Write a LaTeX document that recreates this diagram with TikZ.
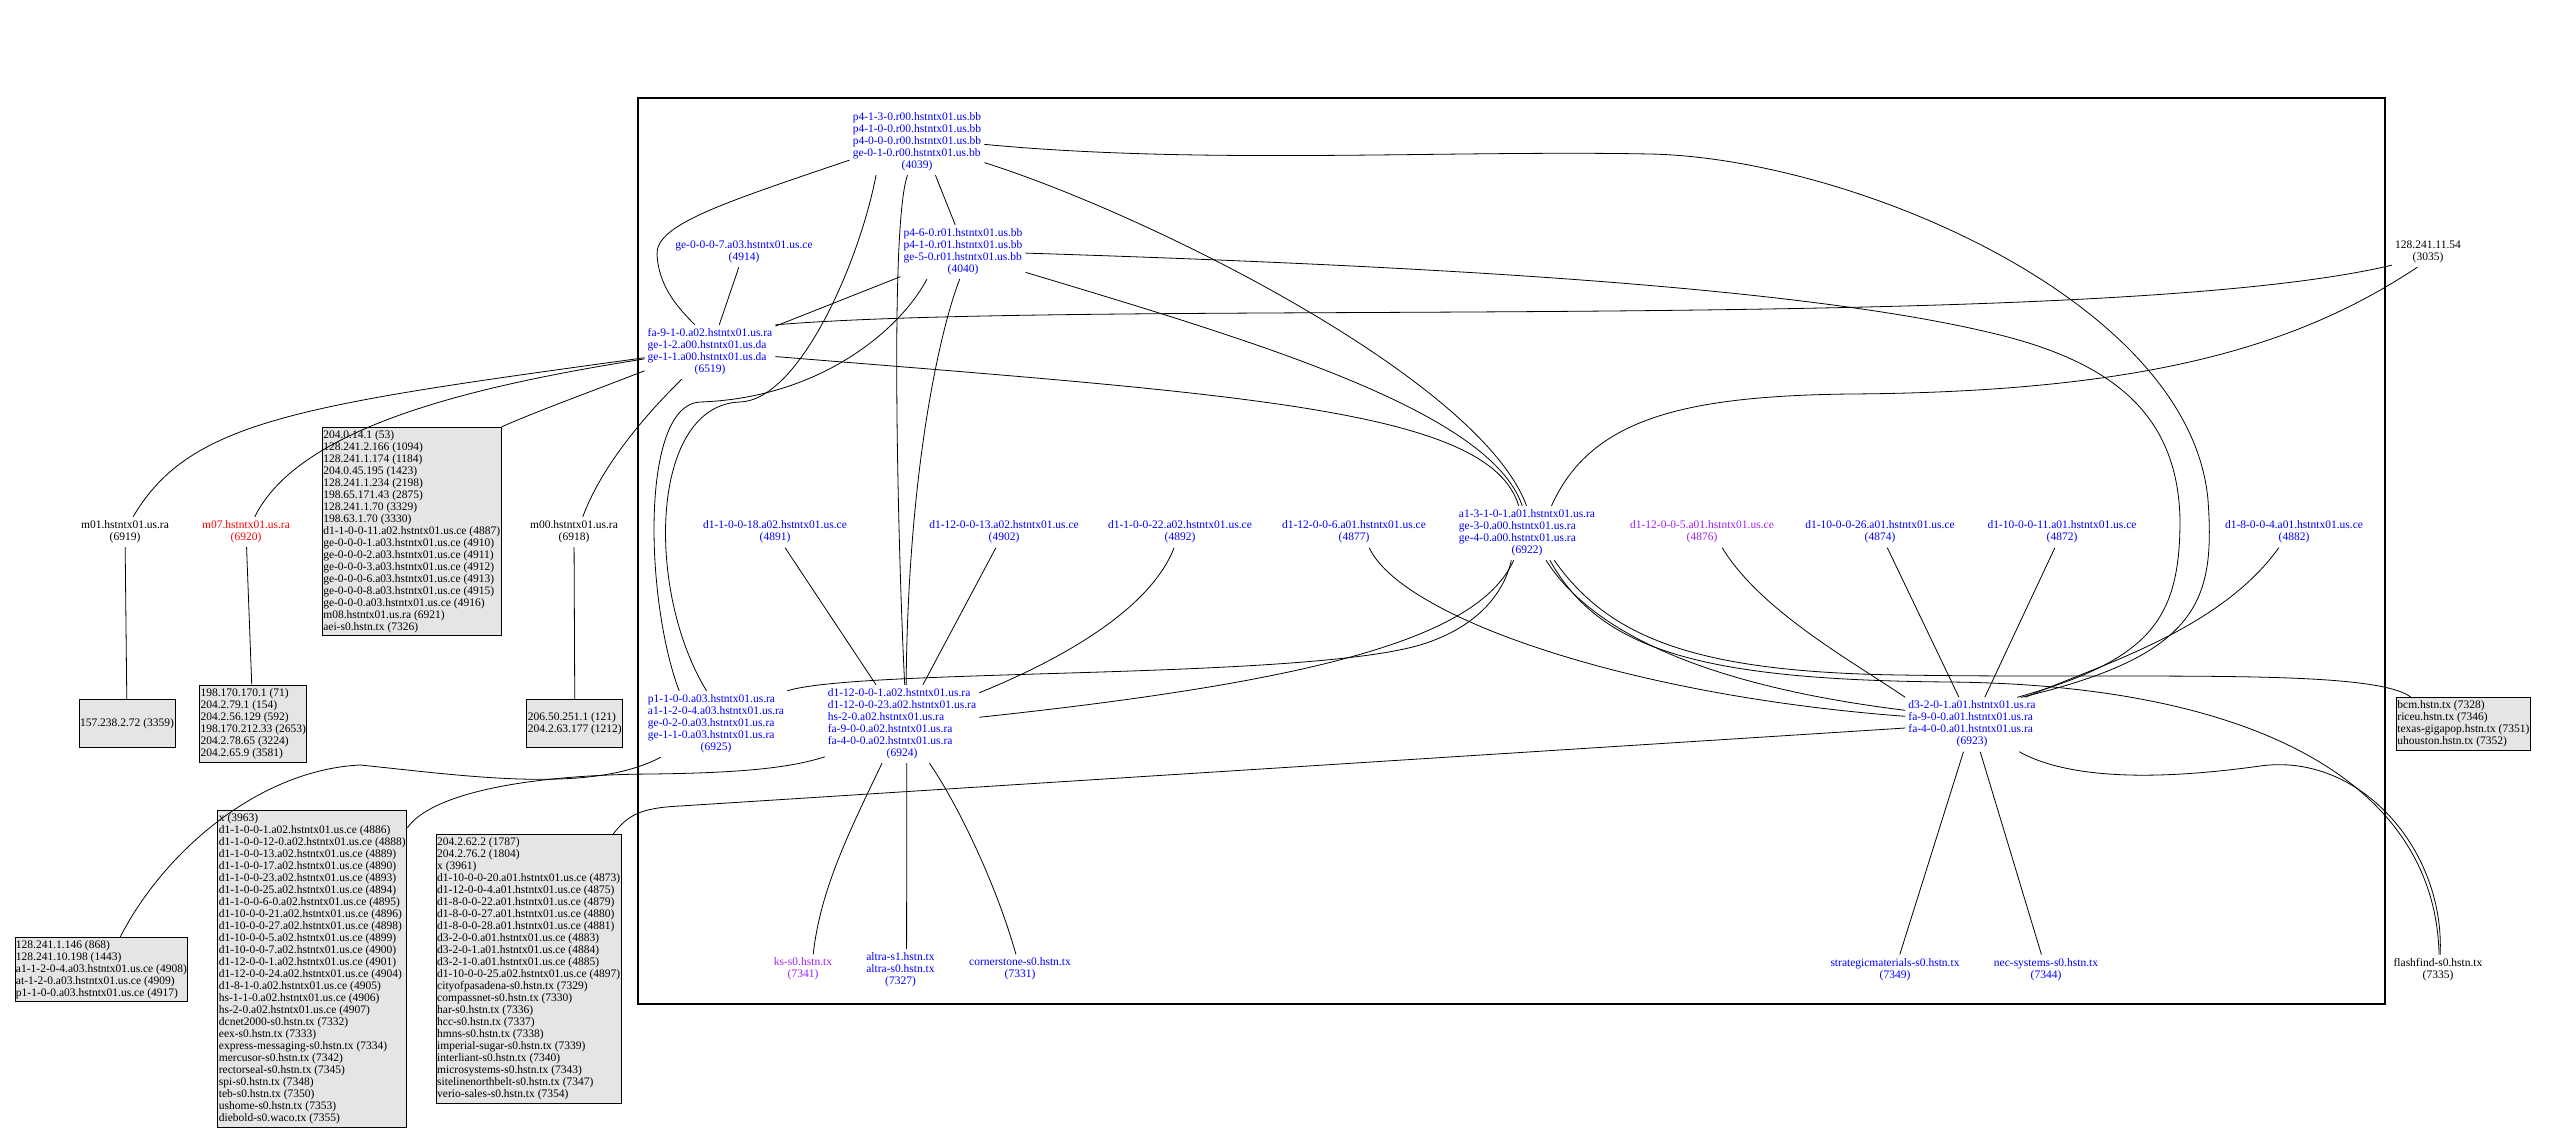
\documentclass[tikz,border=0pt]{standalone}
\usepackage{fontspec}
\setmainfont{Liberation Serif}
\usepackage{tikz}
\definecolor{blu}{RGB}{0,0,255}
\definecolor{prp}{RGB}{160,32,240}
\definecolor{boxgray}{RGB}{229,229,229}
\newcommand{\lbl}[2]{\begin{tabular}{@{}l@{}}#1\\\multicolumn{1}{@{}c@{}}{(#2)}\end{tabular}}
\tikzstyle{rtr} = [inner sep=3pt, font=\fontsize{11.5}{12}\selectfont, text=black]
\tikzstyle{rtrb} = [rtr, text=blu]
\tikzstyle{lst} = [draw, line width=1pt, fill=boxgray, inner xsep=1pt, inner ysep=0pt, align=left, anchor=west, font=\fontsize{11.5}{12}\selectfont]
\tikzstyle{lnk} = [draw, line width=0.8pt]

\begin{document}
\begin{tikzpicture}[x=1pt, y=-1pt]
\useasboundingbox (0,0) rectangle (2553,1141);

% cluster frame
\draw[line width=1.2pt] (638,98) rectangle (2385,1004);

% backbone and aggregation routers
\node[rtrb] (n4039) at (917,142) {\lbl{p4-1-3-0.r00.hstntx01.us.bb\\p4-1-0-0.r00.hstntx01.us.bb\\p4-0-0-0.r00.hstntx01.us.bb\\ge-0-1-0.r00.hstntx01.us.bb}{4039}};
\node[rtrb] (n4040) at (963,252) {\lbl{p4-6-0.r01.hstntx01.us.bb\\p4-1-0.r01.hstntx01.us.bb\\ge-5-0.r01.hstntx01.us.bb}{4040}};
\node[rtrb] (n4914) at (744,252) {\lbl{ge-0-0-0-7.a03.hstntx01.us.ce}{4914}};
\node[rtrb] (n6519) at (710,352) {\lbl{fa-9-1-0.a02.hstntx01.us.ra\\ge-1-2.a00.hstntx01.us.da\\ge-1-1.a00.hstntx01.us.da}{6519}};
\node[rtr] (n3035) at (2428,252) {\lbl{128.241.11.54}{3035}};

% m routers
\node[rtr] (n6919) at (125,532) {\lbl{m01.hstntx01.us.ra}{6919}};
\node[rtr, text=red] (n6920) at (246,532) {\lbl{m07.hstntx01.us.ra}{6920}};
\node[rtr] (n6918) at (574,532) {\lbl{m00.hstntx01.us.ra}{6918}};

% ce row
\node[rtrb] (n4891) at (775,532.5) {\lbl{d1-1-0-0-18.a02.hstntx01.us.ce}{4891}};
\node[rtrb] (n4902) at (1004,532.5) {\lbl{d1-12-0-0-13.a02.hstntx01.us.ce}{4902}};
\node[rtrb] (n4892) at (1180,532.5) {\lbl{d1-1-0-0-22.a02.hstntx01.us.ce}{4892}};
\node[rtrb] (n4877) at (1354,532.5) {\lbl{d1-12-0-0-6.a01.hstntx01.us.ce}{4877}};
\node[rtrb] (n6922) at (1527,533) {\lbl{a1-3-1-0-1.a01.hstntx01.us.ra\\ge-3-0.a00.hstntx01.us.ra\\ge-4-0.a00.hstntx01.us.ra}{6922}};
\node[rtr, text=prp] (n4876) at (1702,532.5) {\lbl{d1-12-0-0-5.a01.hstntx01.us.ce}{4876}};
\node[rtrb] (n4874) at (1880,532.5) {\lbl{d1-10-0-0-26.a01.hstntx01.us.ce}{4874}};
\node[rtrb] (n4872) at (2062,532.5) {\lbl{d1-10-0-0-11.a01.hstntx01.us.ce}{4872}};
\node[rtrb] (n4882) at (2294,532.5) {\lbl{d1-8-0-0-4.a01.hstntx01.us.ce}{4882}};

% ra row
\node[rtrb] (n6925) at (716,724) {\lbl{p1-1-0-0.a03.hstntx01.us.ra\\a1-1-2-0-4.a03.hstntx01.us.ra\\ge-0-2-0.a03.hstntx01.us.ra\\ge-1-1-0.a03.hstntx01.us.ra}{6925}};
\node[rtrb] (n6924) at (902,724) {\lbl{d1-12-0-0-1.a02.hstntx01.us.ra\\d1-12-0-0-23.a02.hstntx01.us.ra\\hs-2-0.a02.hstntx01.us.ra\\fa-9-0-0.a02.hstntx01.us.ra\\fa-4-0-0.a02.hstntx01.us.ra}{6924}};
\node[rtrb] (n6923) at (1972,724.5) {\lbl{d3-2-0-1.a01.hstntx01.us.ra\\fa-9-0-0.a01.hstntx01.us.ra\\fa-4-0-0.a01.hstntx01.us.ra}{6923}};

% customers
\node[rtr, text=prp] (n7341) at (803,969.5) {\lbl{ks-s0.hstn.tx}{7341}};
\node[rtrb] (n7327) at (900.5,970) {\lbl{altra-s1.hstn.tx\\altra-s0.hstn.tx}{7327}};
\node[rtrb] (n7331) at (1020,969.5) {\lbl{cornerstone-s0.hstn.tx}{7331}};
\node[rtrb] (n7349) at (1895,969.7) {\lbl{strategicmaterials-s0.hstn.tx}{7349}};
\node[rtrb] (n7344) at (2046,969.7) {\lbl{nec-systems-s0.hstn.tx}{7344}};
\node[rtr] (n7335) at (2438,969.7) {\lbl{flashfind-s0.hstn.tx}{7335}};

% grouped leaves
\node[lst, minimum height=48pt] (b3359) at (78.6,723.3) {157.238.2.72 (3359)};
\node[lst, minimum height=77pt] (b6920) at (199,723.5) {198.170.170.1 (71)\\204.2.79.1 (154)\\204.2.56.129 (592)\\198.170.212.33 (2653)\\204.2.78.65 (3224)\\204.2.65.9 (3581)};
\node[lst, minimum height=48pt] (b6918) at (526.4,723.3) {206.50.251.1 (121)\\204.2.63.177 (1212)};
\node[lst, minimum height=208pt] (bA) at (321.8,531.3) {204.0.14.1 (53)\\128.241.2.166 (1094)\\128.241.1.174 (1184)\\204.0.45.195 (1423)\\128.241.1.234 (2198)\\198.65.171.43 (2875)\\128.241.1.70 (3329)\\198.63.1.70 (3330)\\d1-1-0-0-11.a02.hstntx01.us.ce (4887)\\ge-0-0-0-1.a03.hstntx01.us.ce (4910)\\ge-0-0-0-2.a03.hstntx01.us.ce (4911)\\ge-0-0-0-3.a03.hstntx01.us.ce (4912)\\ge-0-0-0-6.a03.hstntx01.us.ce (4913)\\ge-0-0-0-8.a03.hstntx01.us.ce (4915)\\ge-0-0-0.a03.hstntx01.us.ce (4916)\\m08.hstntx01.us.ra (6921)\\aei-s0.hstn.tx (7326)};
\node[lst, minimum height=64.4pt] (b6925) at (14.5,969.5) {128.241.1.146 (868)\\128.241.10.198 (1443)\\a1-1-2-0-4.a03.hstntx01.us.ce (4908)\\at-1-2-0.a03.hstntx01.us.ce (4909)\\p1-1-0-0.a03.hstntx01.us.ce (4917)};
\node[lst, minimum height=317.3pt] (b6924) at (217.4,968.7) {x (3963)\\d1-1-0-0-1.a02.hstntx01.us.ce (4886)\\d1-1-0-0-12-0.a02.hstntx01.us.ce (4888)\\d1-1-0-0-13.a02.hstntx01.us.ce (4889)\\d1-1-0-0-17.a02.hstntx01.us.ce (4890)\\d1-1-0-0-23.a02.hstntx01.us.ce (4893)\\d1-1-0-0-25.a02.hstntx01.us.ce (4894)\\d1-1-0-0-6-0.a02.hstntx01.us.ce (4895)\\d1-10-0-0-21.a02.hstntx01.us.ce (4896)\\d1-10-0-0-27.a02.hstntx01.us.ce (4898)\\d1-10-0-0-5.a02.hstntx01.us.ce (4899)\\d1-10-0-0-7.a02.hstntx01.us.ce (4900)\\d1-12-0-0-1.a02.hstntx01.us.ce (4901)\\d1-12-0-0-24.a02.hstntx01.us.ce (4904)\\d1-8-1-0.a02.hstntx01.us.ce (4905)\\hs-1-1-0.a02.hstntx01.us.ce (4906)\\hs-2-0.a02.hstntx01.us.ce (4907)\\dcnet2000-s0.hstn.tx (7332)\\eex-s0.hstn.tx (7333)\\express-messaging-s0.hstn.tx (7334)\\mercusor-s0.hstn.tx (7342)\\rectorseal-s0.hstn.tx (7345)\\spi-s0.hstn.tx (7348)\\teb-s0.hstn.tx (7350)\\ushome-s0.hstn.tx (7353)\\diebold-s0.waco.tx (7355)};
\node[lst, minimum height=268.6pt] (b6923) at (435.7,969) {204.2.62.2 (1787)\\204.2.76.2 (1804)\\x (3961)\\d1-10-0-0-20.a01.hstntx01.us.ce (4873)\\d1-12-0-0-4.a01.hstntx01.us.ce (4875)\\d1-8-0-0-22.a01.hstntx01.us.ce (4879)\\d1-8-0-0-27.a01.hstntx01.us.ce (4880)\\d1-8-0-0-28.a01.hstntx01.us.ce (4881)\\d3-2-0-0.a01.hstntx01.us.ce (4883)\\d3-2-0-1.a01.hstntx01.us.ce (4884)\\d3-2-1-0.a01.hstntx01.us.ce (4885)\\d1-10-0-0-25.a02.hstntx01.us.ce (4897)\\cityofpasadena-s0.hstn.tx (7329)\\compassnet-s0.hstn.tx (7330)\\har-s0.hstn.tx (7336)\\hcc-s0.hstn.tx (7337)\\hmns-s0.hstn.tx (7338)\\imperial-sugar-s0.hstn.tx (7339)\\interliant-s0.hstn.tx (7340)\\microsystems-s0.hstn.tx (7343)\\sitelinenorthbelt-s0.hstn.tx (7347)\\verio-sales-s0.hstn.tx (7354)};
\node[lst, minimum height=52.7pt] (b6922) at (2395.9,723.7) {bcm.hstn.tx (7328)\\riceu.hstn.tx (7346)\\texas-gigapop.hstn.tx (7351)\\uhouston.hstn.tx (7352)};

% edges
\path[lnk] (n4039.195) .. controls (720,204) and (655,225) .. (657,255) .. controls (659,285) and (675,305) .. (n6519.119);
\path[lnk] (n4039.219) .. controls (860,260) and (800,400) .. (740,402) .. controls (650,405) and (645,590) .. (n6925.106);
\path[lnk] (n4039.254) .. controls (888,230) and (900,600) .. (n6924.86);
\path[lnk] (n4039.299) -- (n4040.106);
\path[lnk] (n4039.358) .. controls (1200,165) and (1450,150) .. (1650,154) .. controls (1850,158) and (2190,300) .. (2208,500) .. controls (2215,600) and (2200,655) .. (n6923.29);
\path[lnk] (n4039.343) .. controls (1150,215) and (1480,380) .. (n6922.91);

\path[lnk] (n4040) -- (n6519);
\path[lnk] (n4040.217) .. controls (900,330) and (820,398) .. (700,402) .. controls (640,405) and (645,600) .. (n6925.138);
\path[lnk] (n4040.263) .. controls (940,330) and (908,470) .. (n6924.84);
\path[lnk] (n4040.342) .. controls (1250,340) and (1490,410) .. (n6922.100);
\path[lnk] (n4040.359) .. controls (1400,265) and (1800,285) .. (2000,335) .. controls (2120,365) and (2178,420) .. (2180,520) .. controls (2180,620) and (2150,660) .. (n6923.31);

\path[lnk] (n4914) -- (n6519);
\path[lnk] (n6519.north east) .. controls (1100,298) and (2100,335) .. (n3035.200);
\path[lnk] (n6519.356) .. controls (1250,395) and (1490,410) .. (n6922.107);
\path[lnk] (n6519.185) .. controls (300,405) and (190,420) .. (n6919.62);
\path[lnk] (n6519.186) .. controls (480,385) and (300,425) .. (n6920.60);
\path[lnk] (n6519.196) .. controls (590,392) and (540,410) .. (bA.north east);
\path[lnk] (n6519.224) .. controls (640,420) and (600,470) .. (n6918.60);

\path[lnk] (n6919) -- (b3359);
\path[lnk] (n6920) -- (b6920);
\path[lnk] (n6918) -- (b6918);

\path[lnk] (n4891) -- (n6924);
\path[lnk] (n4902) -- (n6924);
\path[lnk] (n4892) .. controls (1150,610) and (1060,660) .. (n6924);
\path[lnk] (n4877.315) .. controls (1400,615) and (1620,695) .. (n6923.173);
\path[lnk] (n4876.323) .. controls (1760,610) and (1850,660) .. (n6923.north west);
\path[lnk] (n4874) -- (n6923);
\path[lnk] (n4872) -- (n6923);
\path[lnk] (n4882.225) .. controls (2220,630) and (2100,665) .. (n6923.27);

\path[lnk] (n3035.235) .. controls (2300,345) and (2150,392) .. (1850,394) .. controls (1680,396) and (1590,420) .. (n6922.48);

\path[lnk] (n6922.244) .. controls (1480,635) and (1330,680) .. (n6924.5);
\path[lnk] (n6925.north east) .. controls (860,668) and (1300,680) .. (1420,645) .. controls (1480,627) and (1505,590) .. (n6922.240);
\path[lnk] (n6922.315) .. controls (1610,640) and (1700,672) .. (1900,675) .. controls (2150,679) and (2370,668) .. (b6922.153);
\path[lnk] (n6922.310) .. controls (1600,650) and (1700,680) .. (1950,682) .. controls (2250,685) and (2435,780) .. (n7335.86);
\path[lnk] (n6922.305) .. controls (1590,630) and (1700,685) .. (n6923.168);

\path[lnk] (n6923) -- (n7349);
\path[lnk] (n6923) -- (n7344);
\path[lnk] (n6923.330) .. controls (2070,780) and (2160,780) .. (2260,766) .. controls (2360,752) and (2445,850) .. (n7335.82);

\path[lnk] (n6924.243) .. controls (850,830) and (820,890) .. (n7341.56);
\path[lnk] (n6924.277) -- (n7327.74);
\path[lnk] (n6924.305) .. controls (955,800) and (995,880) .. (n7331.105);

\path[lnk] (b6925.60) .. controls (165,850) and (260,770) .. (360,765) .. controls (460,775) and (590,795) .. (n6925.211);
\path[lnk] (b6924.56) .. controls (430,795) and (520,775) .. (650,774) .. controls (740,773) and (790,768) .. (n6924.203);
\path[lnk] (b6923.58) .. controls (628,815) and (640,808) .. (680,806) -- (n6923.183);

\end{tikzpicture}
\end{document}
